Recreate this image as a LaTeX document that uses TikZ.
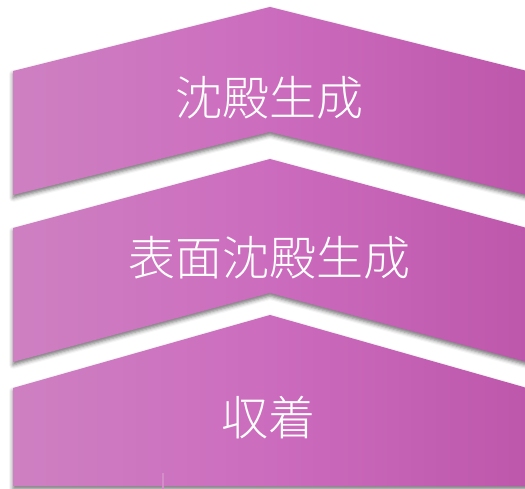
\documentclass[tikz,border=0pt]{standalone}
\usepackage{fontspec}
\newfontfamily\cjk{Noto Sans CJK JP Light}
\usetikzlibrary{shadows.blur}
\definecolor{cleft}{HTML}{CE80C2}
\definecolor{cmid}{HTML}{CC6CBE}
\definecolor{cright}{HTML}{BD57AB}
\tikzset{
  chev/.style={left color=cleft, right color=cright, middle color=cmid, draw=none,
    blur shadow={shadow xshift=0bp, shadow yshift=-3bp, shadow blur radius=4bp, shadow opacity=55}},
  lbl/.style={text=white, font=\cjk\fontsize{47bp}{52bp}\selectfont, inner sep=0pt}
}
\begin{document}
\begin{tikzpicture}[x=1bp, y=-1bp]
\useasboundingbox (0,0) rectangle (525,489);
\begin{scope}
\clip (0,0) rectangle (525,489);
\path[chev] (13,71) -- (270,7) -- (527,71) -- (527,195) -- (270,132) -- (13,195) -- cycle;
\path[chev] (13,228) -- (270,159) -- (527,228) -- (527,362) -- (270,293) -- (13,362) -- cycle;
\path[chev] (13,388) -- (270,315) -- (527,388) -- (527,486) -- (13,486) -- cycle;
\coordinate (m1) at (163,473);
\coordinate (m2) at (163,489);
\draw[color=cleft!90!white, line width=1.5bp] (m1) -- (m2);
\end{scope}
\node[lbl] (t1) at (269,98) {沈殿生成};
\node[lbl] (t2) at (269,258) {表面沈殿生成};
\node[lbl] (t3) at (268,418) {収着};
\end{tikzpicture}
\end{document}
